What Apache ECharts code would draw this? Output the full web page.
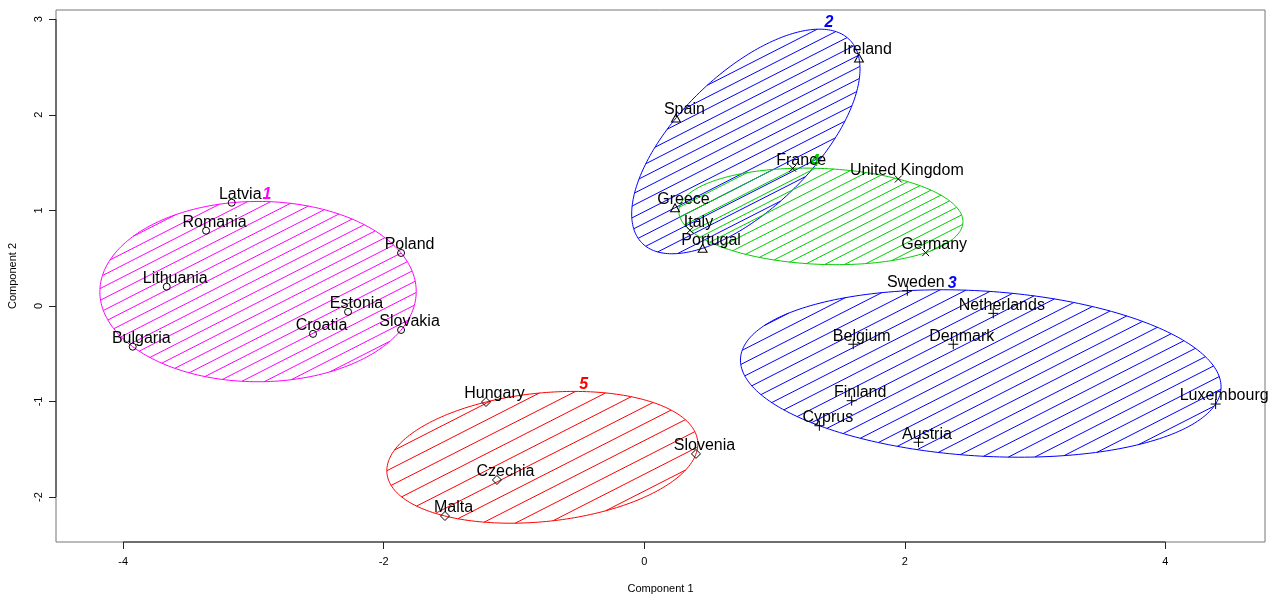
<!DOCTYPE html>
<html>
<head>
<meta charset="utf-8">
<script src="https://cdn.jsdelivr.net/npm/echarts@6/dist/echarts.min.js"></script>
<style>
  html, body { margin: 0; padding: 0; background: #fff; }
  #chart { width: 1274px; height: 596px; }
</style>
</head>
<body>
<div id="chart"></div>
<script>
// ---- Cluster membership and principal component scores ----
const c1Names = ['Latvia', 'Romania', 'Lithuania', 'Poland', 'Estonia', 'Croatia', 'Slovakia', 'Bulgaria'];
const c1X = [-3.167, -3.364, -3.666, -1.867, -2.274, -2.543, -1.867, -3.927];
const c1Y = [1.080, 0.787, 0.201, 0.554, -0.062, -0.293, -0.252, -0.427];

const c2Names = ['Ireland', 'Spain', 'Greece', 'Portugal'];
const c2X = [1.648, 0.243, 0.236, 0.448];
const c2Y = [2.594, 1.966, 1.028, 0.603];

const c3Names = ['Sweden', 'Netherlands', 'Belgium', 'Denmark', 'Finland', 'Cyprus', 'Austria', 'Luxembourg'];
const c3X = [2.019, 2.679, 1.604, 2.372, 1.592, 1.344, 2.105, 4.386];
const c3Y = [0.159, -0.078, -0.401, -0.401, -0.992, -1.254, -1.427, -1.027];

const c4Names = ['France', 'United Kingdom', 'Italy', 'Germany'];
const c4X = [1.139, 1.950, 0.351, 2.160];
const c4Y = [1.440, 1.328, 0.792, 0.557];

const c5Names = ['Hungary', 'Czechia', 'Malta', 'Slovenia'];
const c5X = [-1.215, -1.131, -1.530, 0.397];
const c5Y = [-1.006, -1.822, -2.199, -1.549];

const clusterIds = [1, 2, 3, 4, 5];

// ---- Axes ----
const xTicks = [-4, -2, 0, 2, 4];
const yTicks = [-2, -1, 0, 1, 2, 3];
const xRange = [-4.516, 4.765];
const yRange = [-2.471, 3.097];
const xTitle = 'Component 1';
const yTitle = 'Component 2';

// ---- Styling ----
const FONT = "'Liberation Sans', Arial, Helvetica, sans-serif";
const clusterColors = ['#FF00FF', '#0000FF', '#0000FF', '#00CD00', '#FF0000'];
const hatchGap = [10.5, 10.5, 12, 9, 15];   // pixels between shading lines
const hatchAngle = 27;                      // degrees, measured on screen
const symbols = [
  { path: 'path://M0,-1A1,1 0 1,1 0,1A1,1 0 1,1 0,-1Z', size: [7, 7] },
  { path: 'path://M0,-1L0.866,0.5L-0.866,0.5Z', size: [9, 8] },
  { path: 'path://M-1,0L1,0M0,-1L0,1', size: [10, 10] },
  { path: 'path://M-1,-1L1,1M-1,1L1,-1', size: [7, 7] },
  { path: 'path://M0,-1L1,0L0,1L-1,0Z', size: [9, 9] }
];
const labelShift = [9, -7.5];   // point name placement relative to the marker centre

const clusters = [
  { names: c1Names, x: c1X, y: c1Y },
  { names: c2Names, x: c2X, y: c2Y },
  { names: c3Names, x: c3X, y: c3Y },
  { names: c4Names, x: c4X, y: c4Y },
  { names: c5Names, x: c5X, y: c5Y }
];

// Minimum-area ellipse containing all points of a cluster (Khachiyan's algorithm).
function inv3(m) {
  const [a, b, c] = m[0], [d, e, f] = m[1], [g, h, i] = m[2];
  const A = e * i - f * h, B = -(d * i - f * g), C = d * h - e * g;
  const det = a * A + b * B + c * C;
  return [
    [A / det, -(b * i - c * h) / det, (b * f - c * e) / det],
    [B / det, (a * i - c * g) / det, -(a * f - c * d) / det],
    [C / det, -(a * h - b * g) / det, (a * e - b * d) / det]
  ];
}
function spanningEllipse(xs, ys) {
  const n = xs.length, d = 2;
  let u = new Array(n).fill(1 / n);
  for (let it = 0; it < 200000; it++) {
    const X = [[0, 0, 0], [0, 0, 0], [0, 0, 0]];
    for (let k = 0; k < n; k++) {
      const q = [xs[k], ys[k], 1];
      for (let r = 0; r < 3; r++) for (let s = 0; s < 3; s++) X[r][s] += u[k] * q[r] * q[s];
    }
    const Xi = inv3(X);
    let jmax = 0, mmax = -Infinity;
    for (let k = 0; k < n; k++) {
      const q = [xs[k], ys[k], 1];
      let m = 0;
      for (let r = 0; r < 3; r++) for (let s = 0; s < 3; s++) m += q[r] * Xi[r][s] * q[s];
      if (m > mmax) { mmax = m; jmax = k; }
    }
    const step = (mmax - d - 1) / ((d + 1) * (mmax - 1));
    let err = 0;
    const nu = u.map((v, k) => (1 - step) * v + (k === jmax ? step : 0));
    for (let k = 0; k < n; k++) err += (nu[k] - u[k]) * (nu[k] - u[k]);
    u = nu;
    if (Math.sqrt(err) < 1e-10) break;
  }
  let cx = 0, cy = 0;
  for (let k = 0; k < n; k++) { cx += u[k] * xs[k]; cy += u[k] * ys[k]; }
  let sxx = 0, sxy = 0, syy = 0;
  for (let k = 0; k < n; k++) {
    sxx += u[k] * (xs[k] - cx) * (xs[k] - cx);
    sxy += u[k] * (xs[k] - cx) * (ys[k] - cy);
    syy += u[k] * (ys[k] - cy) * (ys[k] - cy);
  }
  // shape matrix S = d * weighted covariance; Cholesky factor for the outline
  const a = d * sxx, b = d * sxy, c = d * syy;
  const l00 = Math.sqrt(a), l10 = b / l00, l11 = Math.sqrt(Math.max(c - l10 * l10, 0));
  return { cx, cy, l00, l10, l11 };
}
const ellipses = clusters.map(cl => spanningEllipse(cl.x, cl.y));

function renderCluster(params, api) {
  const k = api.value(2);
  const e = ellipses[k];
  const color = clusterColors[k];
  const N = 240;
  const pts = [];
  for (let i = 0; i < N; i++) {
    const t = 2 * Math.PI * i / N;
    const x = e.cx + e.l00 * Math.cos(t);
    const y = e.cy + e.l10 * Math.cos(t) + e.l11 * Math.sin(t);
    pts.push(api.coord([x, y]));
  }
  const children = [];
  // shading lines, anchored at the origin of the axes
  const o = api.coord([0, 0]);
  const th = hatchAngle * Math.PI / 180;
  const nx = Math.sin(th), ny = Math.cos(th);
  const gap = hatchGap[k];
  let mn = Infinity, mx = -Infinity;
  pts.forEach(p => { const v = nx * p[0] + ny * p[1]; mn = Math.min(mn, v); mx = Math.max(mx, v); });
  const base = nx * o[0] + ny * o[1];
  for (let j = Math.ceil((mn - base) / gap); j <= Math.floor((mx - base) / gap); j++) {
    const cval = base + j * gap;
    const hits = [];
    for (let i = 0; i < N; i++) {
      const a = pts[i], b = pts[(i + 1) % N];
      const fa = nx * a[0] + ny * a[1] - cval, fb = nx * b[0] + ny * b[1] - cval;
      if ((fa < 0 && fb >= 0) || (fa >= 0 && fb < 0)) {
        const t = fa / (fa - fb);
        hits.push([a[0] + t * (b[0] - a[0]), a[1] + t * (b[1] - a[1])]);
      }
    }
    if (hits.length >= 2) {
      children.push({
        type: 'line',
        shape: { x1: hits[0][0], y1: hits[0][1], x2: hits[1][0], y2: hits[1][1] },
        style: { stroke: color, lineWidth: 1 }
      });
    }
  }
  children.push({
    type: 'polygon',
    shape: { points: pts },
    style: { fill: 'none', stroke: color, lineWidth: 1 }
  });
  // cluster number just above and right of the top of the ellipse
  let top = pts[0];
  pts.forEach(p => { if (p[1] < top[1]) top = p; });
  children.push({
    type: 'text',
    x: top[0] + 9,
    y: top[1] - 6.5,
    style: {
      text: String(clusterIds[k]),
      fill: color,
      font: 'italic bold 16px ' + FONT,
      align: 'center',
      verticalAlign: 'middle'
    }
  });
  return { type: 'group', children };
}

// axis lines spanning the first to last tick
function renderAxes(params, api) {
  const p0 = api.coord([xTicks[0], yRange[0]]);
  const p1 = api.coord([xTicks[xTicks.length - 1], yRange[0]]);
  const q0 = api.coord([xRange[0], yTicks[0]]);
  const q1 = api.coord([xRange[0], yTicks[yTicks.length - 1]]);
  return {
    type: 'group',
    children: [
      { type: 'line', shape: { x1: p0[0], y1: p0[1], x2: p1[0], y2: p1[1] }, style: { stroke: '#222', lineWidth: 1 } },
      { type: 'line', shape: { x1: q0[0], y1: q0[1], x2: q1[0], y2: q1[1] }, style: { stroke: '#222', lineWidth: 1 } }
    ]
  };
}

const series = [
  {
    type: 'custom',
    coordinateSystem: 'cartesian2d',
    renderItem: renderAxes,
    data: [[0, 0]],
    silent: true,
    z: 1
  },
  {
    type: 'custom',
    coordinateSystem: 'cartesian2d',
    renderItem: renderCluster,
    data: clusters.map((cl, k) => [ellipses[k].cx, ellipses[k].cy, k]),
    encode: { x: 0, y: 1 },
    silent: true,
    z: 2
  }
];
clusters.forEach((cl, k) => {
  const sz = symbols[k].size;
  series.push({
    type: 'scatter',
    name: 'Cluster ' + clusterIds[k],
    symbol: symbols[k].path,
    symbolSize: sz,
    itemStyle: { color: 'transparent', borderColor: '#000', borderWidth: 1, opacity: 1 },
    label: {
      show: true,
      position: [sz[0] / 2 + labelShift[0], sz[1] / 2 + labelShift[1]],
      formatter: p => p.name,
      color: '#000',
      fontFamily: FONT,
      fontSize: 16,
      align: 'center',
      verticalAlign: 'middle',
      textBorderWidth: 0
    },
    emphasis: { disabled: true },
    data: cl.names.map((nm, i) => ({ name: nm, value: [cl.x[i], cl.y[i]] })),
    z: 3
  });
});

const axisCommon = {
  type: 'value',
  nameLocation: 'middle',
  nameTextStyle: { fontFamily: FONT, fontSize: 11, color: '#000' },
  axisLine: { show: false, onZero: false },
  splitLine: { show: false }
};

const chart = echarts.init(document.getElementById('chart'), null, { renderer: 'canvas' });
chart.setOption({
  animation: false,
  backgroundColor: '#fff',
  grid: {
    left: 56, right: 9, top: 10, bottom: 54,
    show: true, borderColor: '#777', borderWidth: 1,
    outerBoundsMode: 'none'
  },
  xAxis: Object.assign({}, axisCommon, {
    min: xRange[0], max: xRange[1],
    name: xTitle,
    nameGap: 41,
    axisTick: { show: true, length: 7, customValues: xTicks, lineStyle: { color: '#222' } },
    axisLabel: { customValues: xTicks, margin: 14, fontFamily: FONT, fontSize: 11, color: '#000' }
  }),
  yAxis: Object.assign({}, axisCommon, {
    min: yRange[0], max: yRange[1],
    name: yTitle,
    nameGap: 38,
    nameRotate: 90,
    axisTick: { show: true, length: 7, customValues: yTicks, lineStyle: { color: '#222' } },
    axisLabel: { customValues: yTicks, rotate: 90, margin: 12, fontFamily: FONT, fontSize: 11, color: '#000' }
  }),
  series
});
</script>
</body>
</html>
